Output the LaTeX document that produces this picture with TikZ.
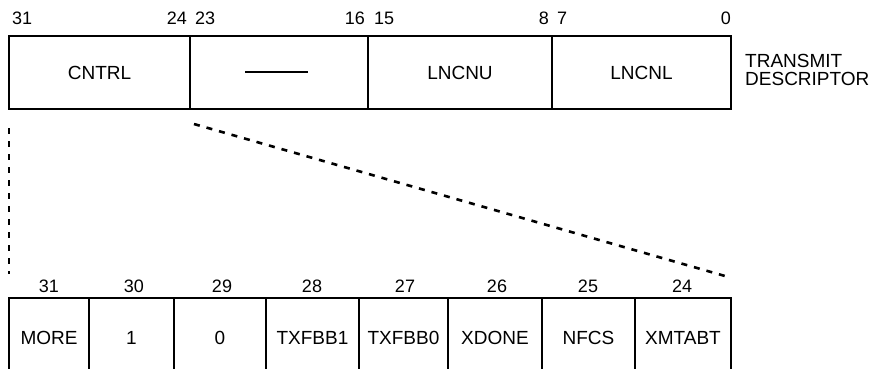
\documentclass[tikz,border=0pt]{standalone}
\usepackage{fontspec}
\setmainfont{Liberation Sans}
\begin{document}
\begin{tikzpicture}[x=1pt,y=-1pt,
  cell/.style={draw,line width=1.8pt,minimum height=0pt,inner sep=0pt},
  lbl/.style={font=\fontsize{18}{21}\selectfont,inner sep=0pt},
  txt/.style={font=\fontsize{19}{22}\selectfont,inner sep=0pt},
  dsh/.style={line width=2.6pt,dash pattern=on 6pt off 7pt}]
\useasboundingbox (0,0) rectangle (877,368);
\clip (0,0) rectangle (877,368);
% top register
\draw[line width=2pt] (9,36) rectangle (731,109);
\draw[line width=1.8pt] (190,36) -- (190,109) (368,36) -- (368,109) (552,36) -- (552,109);
\node[txt] (cntrl) at (99.5,72.5) {CNTRL};
\draw[line width=2pt] (245,72) -- (308,72);
\node[txt] (lncnu) at (460,72.5) {LNCNU};
\node[txt] (lncnl) at (641.5,72.5) {LNCNL};
\node[txt,anchor=west,align=left] (td) at (745,70) {TRANSMIT\\[-4pt]DESCRIPTOR};
% top bit labels
\node[lbl,anchor=base west] (b31) at (12,24) {31};
\node[lbl,anchor=base east] (b24) at (187,24) {24};
\node[lbl,anchor=base west] (b23) at (195,24) {23};
\node[lbl,anchor=base east] (b16) at (365,24) {16};
\node[lbl,anchor=base west] (b15) at (374,24) {15};
\node[lbl,anchor=base east] (b8) at (549,24) {8};
\node[lbl,anchor=base west] (b7) at (557,24) {7};
\node[lbl,anchor=base east] (b0) at (731,24) {0};
% bottom register
\draw[line width=2pt] (9,372) -- (9,298) -- (731,298) -- (731,372);
\foreach \x in {89,174,266,359,448,542,635}{\draw[line width=1.8pt] (\x,298) -- (\x,372);}
\node[txt] (more) at (49,338) {MORE};
\node[txt] (one) at (131.5,338) {1};
\node[txt] (zero) at (220,338) {0};
\node[txt] (txfbb1) at (312.5,338) {TXFBB1};
\node[txt] (txfbb0) at (403.5,338) {TXFBB0};
\node[txt] (xdone) at (495,338) {XDONE};
\node[txt] (nfcs) at (588.5,338) {NFCS};
\node[txt] (xmtabt) at (683,338) {XMTABT};
\foreach \n/\x in {31/49,30/134,29/222,28/312,27/405,26/497,25/588,24/682}{
  \node[lbl,anchor=base] (n\n) at (\x,292) {\n};}
% dashed connectors
\coordinate (a1) at (9,128);
\coordinate (a2) at (9,274);
\coordinate (c1) at (194,124);
\coordinate (c2) at (725,276);
\draw[dsh] (a1) -- (a2);
\draw[dsh] (c1) -- (c2);
\end{tikzpicture}
\end{document}
